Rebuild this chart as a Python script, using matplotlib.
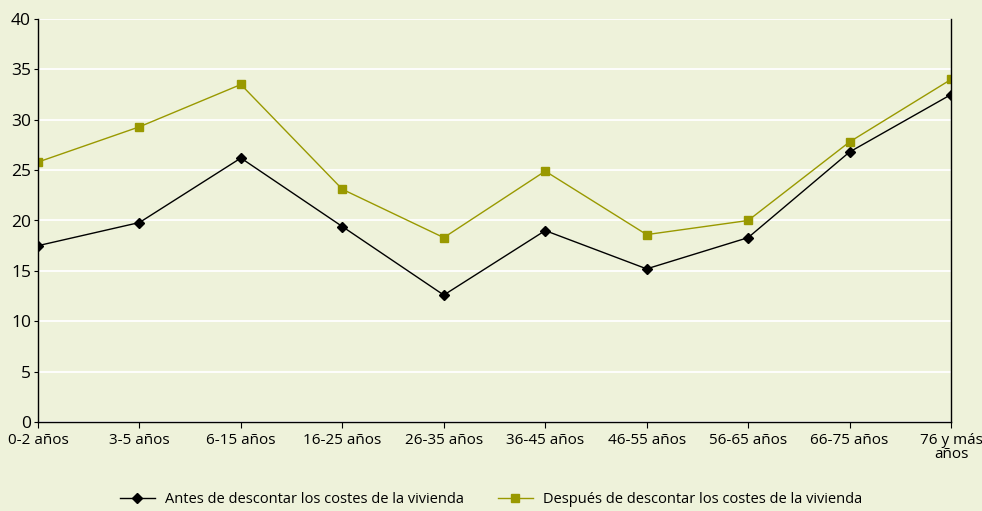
import numpy as np
from matplotlib import pyplot as plt

grupos = ['0-2 años', '3-5 años', '6-15 años', '16-25 años', '26-35 años',
          '36-45 años', '46-55 años', '56-65 años', '66-75 años', '76 y más\naños']
antes = [17.5, 19.8, 26.2, 19.4, 12.6, 19.0, 15.2, 18.3, 26.8, 32.5]
despues = [25.8, 29.3, 33.5, 23.1, 18.3, 24.9, 18.6, 20.0, 27.8, 34.0]

bg = '#eef2da'
oliva = '#999900'

plt.rcParams['font.family'] = ['Open Sans', 'DejaVu Sans']

fig = plt.figure(figsize=(9.82, 5.11), dpi=100, facecolor=bg)
ax = fig.add_axes([38/982, 89/511, 913/982, 403/511], facecolor=bg)

x = np.arange(len(grupos))
ax.plot(x, antes, color='black', lw=1.0, marker='D', ms=5,
        label='Antes de descontar los costes de la vivienda')
ax.plot(x, despues, color=oliva, lw=1.0, marker='s', ms=6,
        label='Después de descontar los costes de la vivienda')

ax.set_xlim(0, len(grupos) - 1)
ax.set_ylim(0, 40)
ax.set_yticks(range(0, 41, 5))
ax.set_xticks(x)
ax.set_xticklabels(grupos, fontsize=11, linespacing=0.9)
ax.tick_params(axis='y', labelsize=12.5, length=3, pad=2)
ax.tick_params(axis='x', length=4, pad=4)
ax.yaxis.grid(True, color='white', lw=1.3)
ax.set_axisbelow(True)
ax.spines['top'].set_visible(False)
for s in ['left', 'bottom', 'right']:
    ax.spines[s].set_color('black')
    ax.spines[s].set_linewidth(1)

fig.legend(loc='lower center', bbox_to_anchor=(0.5, -0.018), ncol=2, frameon=False,
           fontsize=10.5, columnspacing=2.3, handlelength=2.4, handletextpad=0.7)

fig.savefig('out.png', dpi=100, facecolor=bg)
